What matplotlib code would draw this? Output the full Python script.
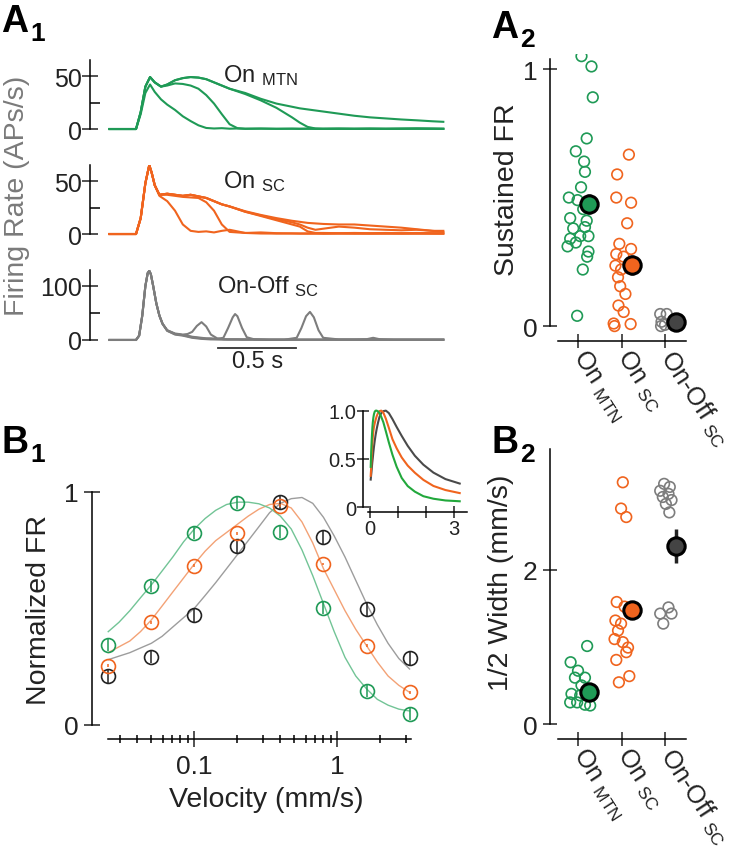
import numpy as np
import matplotlib
matplotlib.use('Agg')
import matplotlib.pyplot as plt
from matplotlib.ticker import FixedLocator, NullFormatter

plt.rcParams['font.family'] = ['Liberation Sans', 'DejaVu Sans']
plt.rcParams['mathtext.fontset'] = 'custom'
plt.rcParams['mathtext.rm'] = 'Liberation Sans'
plt.rcParams['mathtext.bf'] = 'Liberation Sans:bold'
plt.rcParams['mathtext.default'] = 'rm'
plt.rcParams['axes.linewidth'] = 1.1

TXT = '#222222'
GREEN = '#1f9a56'
ORANGE = '#f0641e'
GRAY = '#7d7d7d'
BLACK = '#222222'
FIT_GREEN = '#72c496'
FIT_ORANGE = '#f3a276'
FIT_GRAY = '#9d9d9d'

# ---------------- A1: firing rate traces ----------------
t_green = [-0.17, 0.0, 0.03, 0.06, 0.09, 0.12, 0.16, 0.2, 0.25, 0.3, 0.35, 0.4, 0.45, 0.5,
           0.55, 0.6, 0.65, 0.7, 0.8, 0.9, 1.0, 1.05, 1.1, 1.15, 1.2, 1.3, 1.4, 1.5, 1.6,
           1.7, 1.8, 1.9, 1.97]
green_a = [0, 0, 14, 34, 42, 35, 28, 23, 18, 12, 7.5, 3.5, 1, 0.5, 0.8, 0.3, 0.5, 0.2, 0.4,
           0.2, 0.3, 0.2, 0.3, 0.2, 0.2, 0.3, 0.2, 0.3, 0.2, 0.3, 0.5, 0.3, 0.2]
green_b = [0, 0, 16, 40, 49, 44, 40, 41, 43, 42.5, 41, 38, 32, 24, 14, 4.5, 0.8, 0.3, 0.4,
           0.2, 0.3, 0.2, 0.3, 0.2, 0.2, 0.3, 0.2, 0.3, 0.2, 0.3, 0.4, 0.3, 0.2]
green_c = [0, 0, 16, 40, 49, 44, 40, 42, 46, 48, 49, 48.5, 47, 44, 41, 38, 35.5, 33, 27,
           20, 11, 6, 2, 0.5, 0.2, 0.3, 0.2, 0.3, 0.2, 0.3, 0.3, 0.3, 0.2]
green_d = [0, 0, 16, 40, 49, 44, 40, 42, 46, 48, 49, 48.5, 47, 44, 41, 38, 36, 34, 28.5,
           24, 21, 19.5, 18.5, 17.5, 16.5, 14.5, 12.5, 11, 10, 9, 8.2, 7.3, 6.8]

t_orange = [-0.17, 0.0, 0.03, 0.06, 0.085, 0.1, 0.12, 0.15, 0.2, 0.25, 0.3, 0.35, 0.4, 0.45,
            0.5, 0.55, 0.6, 0.7, 0.8, 0.9, 1.0, 1.05, 1.1, 1.15, 1.2, 1.3, 1.4, 1.5, 1.6,
            1.7, 1.8, 1.9, 1.97]
orange_a = [0, 0, 15, 48, 65, 58, 46, 36, 31, 22, 9, 3, 2, 2.5, 1.5, 3, 4, 1, 0.5, 0.4, 0.5,
            0.4, 0.3, 0.4, 0.3, 0.5, 0.4, 0.3, 0.4, 0.3, 0.4, 0.3, 0.3]
orange_b = [0, 0, 15, 48, 65, 58, 46, 37, 37, 36, 35, 34.5, 34, 30, 22, 9, 2, 1, 1.5, 0.8,
            0.6, 0.5, 0.6, 0.5, 0.4, 0.5, 0.4, 0.5, 0.4, 0.5, 0.4, 0.5, 0.4]
orange_c = [0, 0, 15, 48, 65, 58, 46, 37, 38, 37, 36, 37, 35.5, 34, 31, 28, 26, 21, 17, 13,
            9, 7, 2.5, 1, 1, 0.8, 1, 0.8, 1, 0.8, 1, 0.8, 0.8]
orange_d = [0, 0, 15, 48, 65, 58, 46, 37, 38, 37, 36, 37, 35.5, 34, 31, 28, 26, 21.5, 18,
            15, 12.5, 11.5, 10.5, 10, 9.5, 9, 9, 8, 7, 6, 4.5, 3, 2]
orange_e = [0, 0, 15, 48, 65, 58, 46, 37, 38, 37, 36, 37, 35.5, 34, 31, 28, 26, 21, 17.5,
            14, 11, 9, 6, 4, 5, 7, 6, 4.5, 4, 3.5, 4, 3, 3]

t_gray = [-0.17, 0.0, 0.02, 0.04, 0.06, 0.075, 0.085, 0.095, 0.11, 0.13, 0.15, 0.17, 0.2,
          0.25, 0.3, 0.33, 0.36, 0.39, 0.42, 0.45, 0.48, 0.52,
          0.56, 0.59, 0.62, 0.635, 0.65, 0.68, 0.71, 0.76,
          0.85, 0.95, 1.03, 1.06, 1.09, 1.115, 1.14, 1.17, 1.2,
          1.3, 1.4, 1.48, 1.52, 1.56, 1.65, 1.8, 1.97]
gray_a = [0, 0, 8, 45, 100, 124, 128, 122, 100, 68, 45, 30, 18,
          12, 10, 11, 15, 26, 33, 25, 10, 3,
          1.5, 1, 1, 1, 1, 0.5, 0.5, 0.5,
          0.5, 0.5, 0.5, 0.5, 0.5, 0.5, 0.5, 0.5, 0.5,
          0.5, 0.5, 0.5, 0.5, 0.5, 0.5, 0.5, 0.5]
gray_b = [0, 0, 8, 45, 100, 124, 128, 122, 100, 68, 45, 30, 17,
          11, 9, 8, 6, 5, 4, 3, 3, 2,
          4, 22, 42, 48, 44, 22, 5, 1,
          0.5, 0.5, 0.5, 0.5, 0.5, 0.5, 0.5, 0.5, 0.5,
          0.5, 0.5, 0.5, 0.5, 0.5, 0.5, 0.5, 0.5]
gray_c = [0, 0, 8, 45, 100, 124, 128, 122, 100, 68, 45, 30, 18,
          11, 9, 7, 5, 4, 3, 2.5, 2, 1.5,
          1, 1, 1, 1, 1, 1, 1, 1,
          0.5, 0.5, 4, 22, 44, 52, 42, 18, 4,
          1, 1, 1.5, 4, 1.5, 0.5, 0.5, 0.5]
gray_d = [0, 0, 8, 45, 100, 124, 128, 122, 100, 68, 45, 30, 17,
          10, 8, 6, 4, 3, 2, 1.5, 1, 1,
          1, 1, 1, 1, 1, 1, 1, 1,
          0.5, 0.5, 0.5, 0.5, 0.5, 0.5, 0.5, 0.5, 0.5,
          0.5, 0.5, 0.5, 0.5, 0.5, 0.5, 0.5, 0.5]

scale_bar_s = 0.5

# ---------------- A2 / B2: per-cell values ----------------
categories = ['On $_{MTN}$', 'On $_{SC}$', 'On-Off $_{SC}$']

sus_mtn = [1.05, 1.01, 0.89, 0.73, 0.68, 0.64, 0.60, 0.54, 0.50, 0.49, 0.455, 0.42, 0.41,
           0.38, 0.385, 0.35, 0.34, 0.35, 0.325, 0.31, 0.29, 0.27, 0.22, 0.04]
sus_mtn_jit = [0.08, 0.31, 0.34, 0.2, -0.05, 0.14, 0.16, 0.07, -0.21, -0.01, 0.12, -0.18,
               0.2, -0.11, 0.16, 0.05, -0.18, 0.24, -0.05, -0.24, 0.24, 0.21, 0.11, -0.02]
sus_sc = [0.667, 0.59, 0.50, 0.48, 0.40, 0.32, 0.30, 0.28, 0.27, 0.235, 0.22, 0.19, 0.155,
          0.125, 0.08, 0.055, 0.01, 0.0, 0.008]
sus_sc_jit = [0.17, -0.1, -0.12, 0.22, 0.13, -0.05, 0.22, -0.12, 0.05, -0.14, -0.01, -0.08,
              -0.03, 0.09, -0.07, 0.05, -0.18, -0.16, 0.21]
sus_onoff = [0.047, 0.047, 0.017, 0.0, 0.005]
sus_onoff_jit = [-0.11, 0.04, -0.08, -0.09, 0.0]
sus_mean = [0.475, 0.237, 0.017]
sus_sem = [0.04, 0.04, 0.005]

hw_mtn = [1.01, 0.80, 0.69, 0.60, 0.60, 0.50, 0.39, 0.37, 0.37, 0.28, 0.28, 0.25, 0.24]
hw_mtn_jit = [0.21, -0.17, 0.0, -0.07, 0.16, 0.08, -0.15, 0.05, 0.28, -0.18, -0.02, 0.16,
              0.28]
hw_sc = [3.13, 2.79, 2.68, 1.58, 1.52, 1.34, 1.30, 1.21, 1.10, 1.06, 0.99, 0.93, 0.83,
         0.62, 0.54]
hw_sc_jit = [0.03, -0.01, 0.11, -0.11, 0.07, -0.14, -0.01, -0.08, -0.16, 0.03, 0.15, 0.11,
             -0.12, 0.18, -0.06]
hw_onoff = [3.11, 3.07, 3.02, 2.98, 2.94, 2.90, 2.85, 2.74, 1.51, 1.43, 1.43, 1.30]
hw_onoff_jit = [-0.02, 0.11, -0.11, 0.08, -0.05, 0.15, 0.02, 0.1, 0.08, -0.11, 0.15, -0.04]
hw_mean = [0.41, 1.48, 2.31]
hw_sem = [0.05, 0.1, 0.22]

# ---------------- B1: velocity tuning ----------------
vel = [0.025, 0.05, 0.1, 0.2, 0.4, 0.8, 1.6, 3.2]
nfr_mtn = [0.343, 0.594, 0.822, 0.951, 0.826, 0.501, 0.147, 0.047]
nfr_sc = [0.254, 0.44, 0.683, 0.822, 0.94, 0.69, 0.34, 0.14]
nfr_onoff = [0.209, 0.293, 0.471, 0.766, 0.954, 0.804, 0.497, 0.286]
err_mtn = [0.025] * 8
err_sc = [0.006] * 8
err_onoff = [0.028] * 8

fit_vel = [0.025, 0.0297, 0.0354, 0.042, 0.05, 0.0595, 0.0707, 0.0841, 0.1, 0.119, 0.141,
           0.168, 0.2, 0.238, 0.283, 0.336, 0.4, 0.476, 0.566, 0.673, 0.8, 0.951, 1.131,
           1.345, 1.6, 1.903, 2.263, 2.691, 3.2]
fit_mtn = [0.40, 0.44, 0.49, 0.545, 0.60, 0.66, 0.72, 0.785, 0.84, 0.885, 0.92, 0.945,
           0.955, 0.955, 0.948, 0.93, 0.895, 0.84, 0.75, 0.64, 0.52, 0.40, 0.29, 0.21,
           0.155, 0.11, 0.085, 0.068, 0.06]
fit_sc = [0.31, 0.335, 0.36, 0.40, 0.45, 0.51, 0.57, 0.63, 0.69, 0.745, 0.79, 0.825, 0.86,
          0.895, 0.925, 0.945, 0.95, 0.93, 0.87, 0.78, 0.67, 0.58, 0.49, 0.41, 0.34, 0.27,
          0.21, 0.17, 0.14]
fit_onoff = [0.28, 0.295, 0.31, 0.33, 0.35, 0.38, 0.42, 0.46, 0.50, 0.555, 0.61, 0.67, 0.73,
             0.79, 0.85, 0.91, 0.95, 0.97, 0.975, 0.95, 0.89, 0.81, 0.72, 0.62, 0.52, 0.43,
             0.35, 0.285, 0.24]

W, H = 740, 853
fig = plt.figure(figsize=(W / 100, H / 100), dpi=100)


def add_ax(l, t, r, b):
    # pixel box (left, top, right, bottom) -> figure axes
    return fig.add_axes([l / W, 1 - b / H, (r - l) / W, (b - t) / H])


def clean(ax, left=True, bottom=False):
    for s in ['top', 'right']:
        ax.spines[s].set_visible(False)
    ax.spines['left'].set_visible(left)
    ax.spines['bottom'].set_visible(bottom)
    ax.tick_params(colors=TXT, labelcolor=TXT, width=1.1)


def panel_label(x, y, letter, num):
    fig.text(x / W, 1 - y / H, letter, fontsize=27, fontweight='bold', color='black',
             va='baseline', ha='left')
    fig.text((x + 29) / W, 1 - (y + 9) / H, num, fontsize=19, fontweight='bold',
             color='black', va='baseline', ha='left')


# ---- A1 ----
trace_sets = [
    (61.1, 133.2, (-3, 65), [0, 50], [25], t_green, [green_a, green_b, green_c, green_d], GREEN,
     'On $_{MTN}$', 0.558, 45.3),
    (166.1, 238.2, (-3, 65), [0, 50], [25], t_orange,
     [orange_a, orange_b, orange_c, orange_d, orange_e], ORANGE, 'On $_{SC}$', 0.558, 44.3),
    (270.8, 344.2, (-6, 130), [0, 100], [50], t_gray, [gray_a, gray_b, gray_c, gray_d], GRAY,
     'On-Off $_{SC}$', 0.519, 88.9),
]
trace_axes = []
for top, bot, ylim, ymaj, ymin, tt, traces, col, lab, lx, ly in trace_sets:
    ax = add_ax(90, top, 448, bot)
    clean(ax)
    for tr in traces:
        ax.plot(tt, tr, color=col, lw=1.5, solid_joinstyle='round')
    ax.set_xlim(-0.295, 2.0)
    ax.set_ylim(*ylim)
    ax.spines['left'].set_bounds(0, ylim[1])
    ax.set_xticks([])
    ax.yaxis.set_major_locator(FixedLocator(ymaj))
    ax.yaxis.set_minor_locator(FixedLocator(ymin))
    ax.yaxis.set_minor_formatter(NullFormatter())
    ax.tick_params(axis='y', which='major', direction='inout', length=11, labelsize=18, pad=0)
    ax.tick_params(axis='y', which='minor', direction='in', length=7, width=1.1)
    ax.text(lx, ly, lab, fontsize=17, color=TXT, va='baseline', ha='left')
    ax.patch.set_alpha(0)
    trace_axes.append(ax)

axg = trace_axes[2]
bar_t0 = 0.526
axg.plot([bar_t0, bar_t0 + scale_bar_s], [-15, -15], color='#333333', lw=1.3, clip_on=False)
axg.text(bar_t0 + scale_bar_s / 2, -19, '0.5 s', fontsize=17, color=TXT, ha='center',
         va='top')
fig.text(17 / W, 1 - 196 / H, 'Firing Rate (APs/s)', rotation=90, fontsize=20.5,
         color='#7a7a7a', ha='center', va='center')
panel_label(1, 32, 'A', '1')


# ---- A2 / B2 ----
def scatter_panel(top, bot, ylim, ybound, yticks, groups, means, sems, ylabel, ylab_xy):
    ax = add_ax(550, top, 691, bot)
    clean(ax, bottom=True)
    cols = [GREEN, ORANGE, GRAY]
    fills = [GREEN, ORANGE, '#444444']
    for i, (vals, jit) in enumerate(groups):
        ax.scatter([i + j for j in jit], vals, s=58, facecolors='none', edgecolors=cols[i],
                   linewidths=1.2, zorder=3)
        ax.errorbar(i + 0.25, means[i], yerr=sems[i], fmt='o', ms=12.5, mfc=fills[i],
                    mec='black', mew=2.2, ecolor='#222222', elinewidth=2.5, capsize=0,
                    zorder=5)
    ax.set_xlim(-0.644, 2.598)
    ax.set_ylim(*ylim)
    ax.spines['left'].set_bounds(0, ybound)
    ax.spines['bottom'].set_bounds(-0.46, 2.48)
    ax.set_yticks(yticks)
    ax.set_yticklabels([str(v) for v in yticks])
    ax.set_xticks([0, 1, 2])
    ax.set_xticklabels(categories)
    ax.tick_params(axis='y', direction='inout', length=10, labelsize=19, pad=4)
    ax.tick_params(axis='x', direction='inout', length=10, labelsize=18, pad=3)
    for lbl in ax.get_xticklabels():
        lbl.set_rotation(-57)
        lbl.set_ha('left')
        lbl.set_va('center')
        lbl.set_rotation_mode('anchor')
    ax.patch.set_alpha(0)
    fig.text(ylab_xy[0] / W, 1 - ylab_xy[1] / H, ylabel, rotation=90, fontsize=20.5,
             color=TXT, ha='center', va='center')
    return ax


scatter_panel(54.6, 342, (-0.058, 1.06), 1.04, [0, 1],
              [(sus_mtn, sus_mtn_jit), (sus_sc, sus_sc_jit), (sus_onoff, sus_onoff_jit)],
              sus_mean, sus_sem, 'Sustained FR', (507, 190))
panel_label(491, 38, 'A', '2')

scatter_panel(447, 740, (-0.194, 3.6), 3.56, [0, 2],
              [(hw_mtn, hw_mtn_jit), (hw_sc, hw_sc_jit), (hw_onoff, hw_onoff_jit)],
              hw_mean, hw_sem, '1/2 Width (mm/s)', (501, 583))
panel_label(491, 453, 'B', '2')

# ---- B1 ----
ax = add_ax(91.7, 488, 420, 740)
clean(ax, bottom=True)
ax.set_xscale('log')
for fv, col in [(fit_onoff, FIT_GRAY), (fit_sc, FIT_ORANGE), (fit_mtn, FIT_GREEN)]:
    ax.plot(fit_vel, fv, color=col, lw=1.0, zorder=2)
for vals, err, col in [(nfr_onoff, err_onoff, BLACK), (nfr_sc, err_sc, ORANGE),
                       (nfr_mtn, err_mtn, GREEN)]:
    ax.errorbar(vel, vals, yerr=err, fmt='o', ms=10, mfc='none', mec=col, mew=1.2,
                ecolor=col, elinewidth=1.1, capsize=0, zorder=3)
ax.set_xlim(0.01916, 3.784)
ax.set_ylim(-0.06, 1.02)
ax.spines['left'].set_bounds(0, 1)
ax.spines['bottom'].set_bounds(0.025, 3.3)
ax.set_yticks([0, 1])
ax.set_yticklabels(['0', '1'])
ax.xaxis.set_major_locator(FixedLocator([0.1, 1]))
ax.set_xticklabels(['0.1', '1'])
ax.xaxis.set_minor_locator(FixedLocator([0.03, 0.04, 0.05, 0.06, 0.07, 0.08, 0.09, 0.2, 0.3,
                                         0.4, 0.5, 0.6, 0.7, 0.8, 0.9, 2, 3]))
ax.xaxis.set_minor_formatter(NullFormatter())
ax.tick_params(axis='y', direction='inout', length=11, labelsize=19, pad=4)
ax.tick_params(axis='x', which='major', direction='inout', length=12, labelsize=19, pad=5)
ax.tick_params(axis='x', which='minor', direction='inout', length=6, width=1.1)
ax.patch.set_alpha(0)
fig.text(39 / W, 1 - 610 / H, 'Normalized FR', rotation=90, fontsize=20.5, color=TXT,
         ha='center', va='center')
fig.text(266 / W, 1 - 800 / H, 'Velocity (mm/s)', fontsize=20.5, color=TXT,
         ha='center', va='center')
panel_label(1, 453, 'B', '1')

# inset: same fits on a linear axis, peak-normalised
axi = add_ax(363, 409.7, 467, 512.7)
clean(axi, bottom=True)
for fv, col in [(fit_onoff, '#4a4a4a'), (fit_sc, ORANGE), (fit_mtn, '#22a83c')]:
    fv = np.array(fv)
    axi.plot(fit_vel, fv / fv.max(), color=col, lw=1.5)
axi.set_xlim(-0.25, 3.46)
axi.set_ylim(-0.045, 1.02)
axi.spines['left'].set_bounds(0, 1.0)
axi.spines['bottom'].set_bounds(-0.06, 3.45)
axi.set_yticks([0, 0.5, 1.0])
axi.set_yticklabels(['0', '0.5', '1.0'])
axi.set_xticks([0, 1, 2, 3])
axi.set_xticklabels(['0', '', '', '3'])
axi.tick_params(direction='inout', length=8, labelsize=14.5, pad=1)
axi.patch.set_alpha(0)

fig.savefig('out.png', dpi=100)
